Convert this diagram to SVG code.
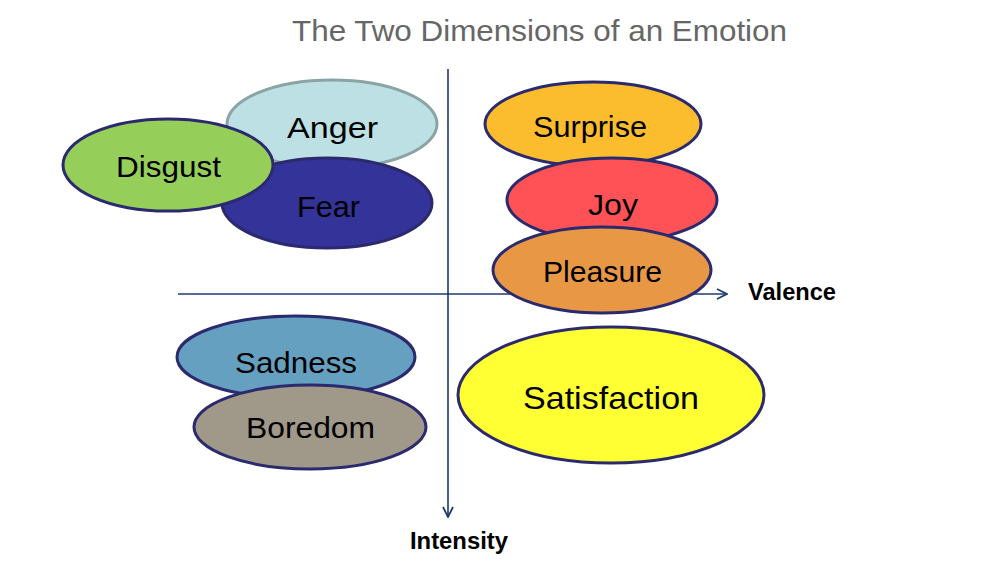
<svg xmlns="http://www.w3.org/2000/svg" width="986" height="574" viewBox="0 0 986 574">
<style>
.e{stroke:#2B2A6E;stroke-width:3}
.l{font-family:"Liberation Sans",Arial,sans-serif;font-size:29px;fill:#000;text-anchor:start}
.ax{stroke:#1F3A70;stroke-width:1.6;fill:none}
.b{font-family:"Liberation Sans",Arial,sans-serif;font-weight:bold;font-size:23px;fill:#000}
</style>
<defs>
<marker id="arr" viewBox="0 0 12 12" refX="11" refY="6" markerWidth="12" markerHeight="12" markerUnits="userSpaceOnUse" orient="auto">
<path d="M1,1 L11,6 L1,11" fill="none" stroke="#1F3A70" stroke-width="1.8"/>
</marker>
</defs>
<rect width="986" height="574" fill="#fff"/>
<text x="292" y="41" textLength="495" lengthAdjust="spacingAndGlyphs" style="font-family:'Liberation Sans',Arial,sans-serif;font-size:29px;fill:#666">The Two Dimensions of an Emotion</text>
<g id="connectors">
<line class="ax" x1="178" y1="294" x2="727" y2="294" marker-end="url(#arr)"/>
<line class="ax" x1="448" y1="69" x2="448" y2="517" marker-end="url(#arr)"/>
</g>
<g id="anger"><ellipse cx="332" cy="124" rx="105" ry="44" fill="#BDE0E4" stroke="#8CA3A3" stroke-width="3"/><text class="l" x="287" y="138" textLength="91" lengthAdjust="spacingAndGlyphs">Anger</text></g>
<g id="fear"><ellipse class="e" cx="327" cy="203" rx="105" ry="45" fill="#333399"/><text class="l" x="297" y="217" textLength="63" lengthAdjust="spacingAndGlyphs">Fear</text></g>
<g id="disgust"><ellipse class="e" cx="168" cy="165" rx="105" ry="46" fill="#96CE5A"/><text class="l" x="116" y="177" textLength="105" lengthAdjust="spacingAndGlyphs">Disgust</text></g>
<g id="surprise"><ellipse class="e" cx="593" cy="124" rx="108" ry="42" fill="#FBBD2E"/><text class="l" x="533" y="137" textLength="114" lengthAdjust="spacingAndGlyphs">Surprise</text></g>
<g id="joy"><ellipse class="e" cx="612" cy="200" rx="105" ry="42" fill="#FF5257"/><text class="l" x="588" y="215" textLength="50" lengthAdjust="spacingAndGlyphs">Joy</text></g>
<g id="pleasure"><ellipse class="e" cx="602" cy="270" rx="109" ry="43" fill="#E89745"/><text class="l" x="543" y="282" textLength="119" lengthAdjust="spacingAndGlyphs">Pleasure</text></g>
<g id="sadness"><ellipse class="e" cx="296" cy="357" rx="119" ry="41" fill="#66A0C0"/><text class="l" x="235" y="373" textLength="122" lengthAdjust="spacingAndGlyphs">Sadness</text></g>
<g id="boredom"><ellipse class="e" cx="310" cy="427" rx="116" ry="42" fill="#A09888"/><text class="l" x="246" y="438" textLength="129" lengthAdjust="spacingAndGlyphs">Boredom</text></g>
<g id="satisfaction"><ellipse class="e" cx="611" cy="395" rx="153" ry="68" fill="#FFFF33"/><text class="l" x="523" y="409" textLength="176" lengthAdjust="spacingAndGlyphs" style="font-size:32px">Satisfaction</text></g>
<text class="b" x="748" y="300" textLength="88" lengthAdjust="spacingAndGlyphs">Valence</text>
<text class="b" x="410" y="549" textLength="98" lengthAdjust="spacingAndGlyphs">Intensity</text>
</svg>
